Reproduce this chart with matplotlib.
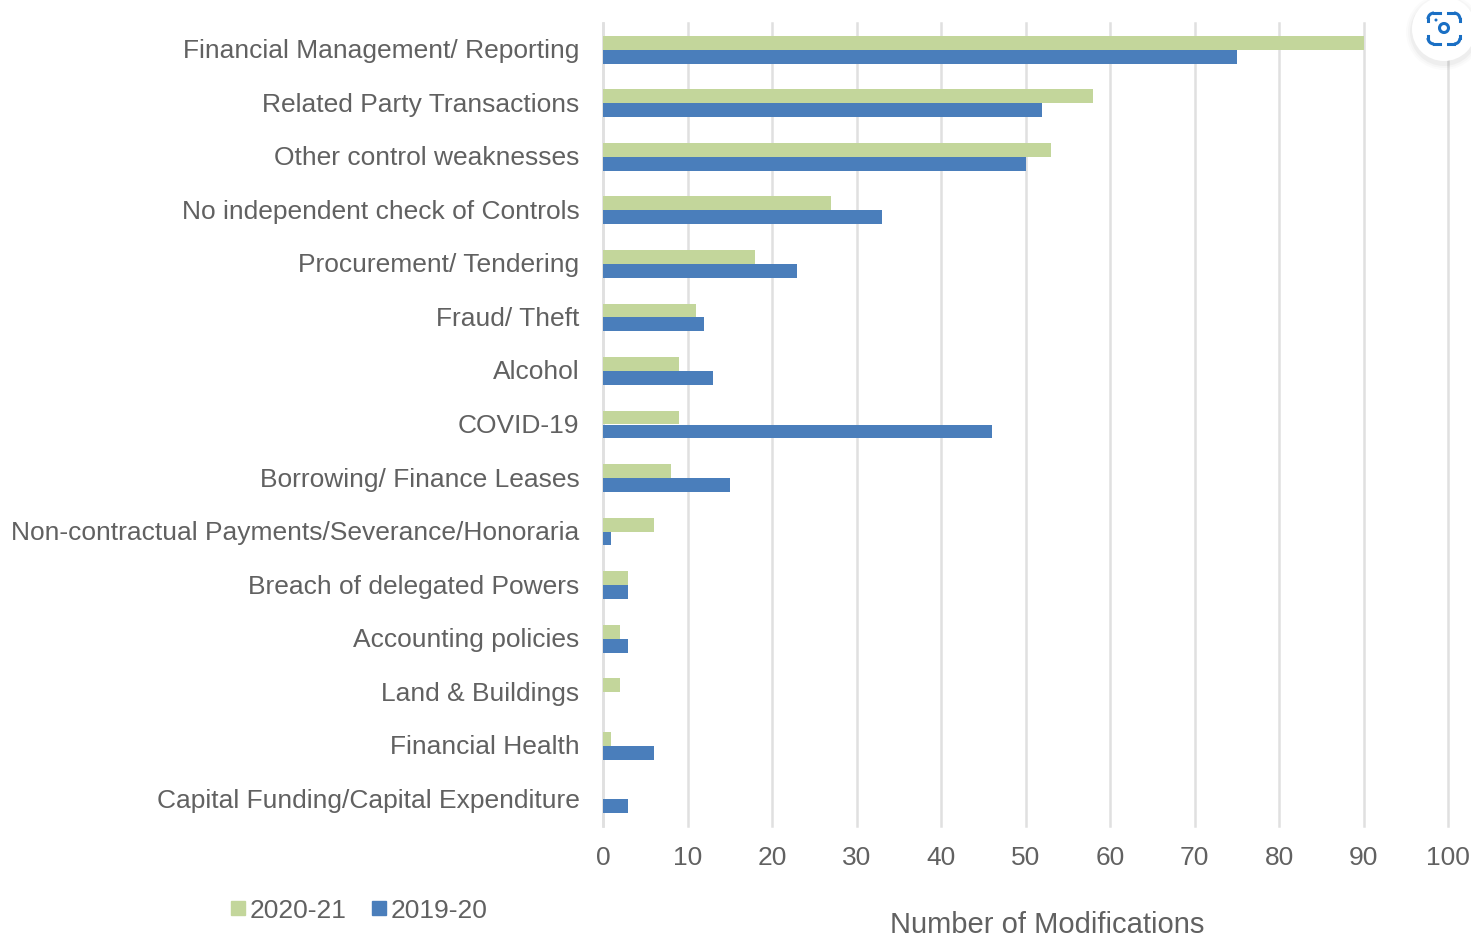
import matplotlib
matplotlib.use('Agg')
import matplotlib.pyplot as plt
from matplotlib.lines import Line2D
from matplotlib.patches import Arc, Circle, Rectangle
from matplotlib.transforms import Affine2D, ScaledTranslation

categories = ['Financial Management/ Reporting', 'Related Party Transactions', 'Other control weaknesses',
              'No independent check of Controls', 'Procurement/ Tendering', 'Fraud/ Theft', 'Alcohol', 'COVID-19',
              'Borrowing/ Finance Leases', 'Non-contractual Payments/Severance/Honoraria',
              'Breach of delegated Powers', 'Accounting policies', 'Land & Buildings', 'Financial Health',
              'Capital Funding/Capital Expenditure']
values_2021 = [90, 58, 53, 27, 18, 11, 9, 9, 8, 6, 3, 2, 2, 1, 0]
values_1920 = [75, 52, 50, 33, 23, 12, 13, 46, 15, 1, 3, 3, 0, 6, 3]
xticks = list(range(0, 101, 10))

W, H = 1471, 937
plt.rcParams['font.family'] = ['Liberation Sans', 'DejaVu Sans']
fig = plt.figure(figsize=(W / 100, H / 100), dpi=100)
ax = fig.add_axes([603 / W, 1 - 827 / H, (1448 - 603) / W, (827 - 24) / H])

grey = '#616161'
green = '#c3d69b'
blue = '#4a7ebb'
for i in range(len(categories)):
    ax.barh(i - 0.13, values_2021[i], height=0.26, color=green, zorder=3)
    ax.barh(i + 0.13, values_1920[i], height=0.26, color=blue, zorder=3)

ax.set_xlim(0, 100)
ax.set_ylim(14.5, -0.5)
ax.set_xticks(xticks)
ax.set_yticks(range(len(categories)))
ax.set_yticklabels(categories)
ax.tick_params(axis='both', length=0, labelsize=19, labelcolor=grey)
ax.tick_params(axis='y', pad=17)
ax.tick_params(axis='x', pad=14)
ax.grid(axis='x', color='#e0e0e0', lw=1.8, zorder=1, clip_on=False)
for s in ['top', 'right', 'bottom']:
    ax.spines[s].set_visible(False)
ax.spines['left'].set_color('#e0e0e0')
ax.spines['left'].set_linewidth(1.8)
ax.spines['left'].set_zorder(1)

# y labels sit above the bar centres
nudge = ScaledTranslation(0, 2 / 100, fig.dpi_scale_trans)
for lbl in ax.get_yticklabels():
    lbl.set_transform(lbl.get_transform() + nudge)

# legend drawn by hand, positions in figure pixels
fig.add_artist(Rectangle((231 / W, 1 - 916 / H), 14 / W, 14 / H, color=green, transform=fig.transFigure))
fig.add_artist(Rectangle((372 / W, 1 - 916 / H), 14 / W, 14 / H, color=blue, transform=fig.transFigure))
fig.text(250 / W, 1 - 911 / H, '2020-21', fontsize=19, color=grey, va='center')
fig.text(391 / W, 1 - 911 / H, '2019-20', fontsize=19, color=grey, va='center')
fig.text(1047 / W, 1 - 925 / H, 'Number of Modifications', fontsize=21, color=grey, ha='center', va='center')

# screenshot search badge, top right corner, drawn in pixel coords
px = Affine2D().scale(1, -1).translate(0, H)
for r, a in [(38, 0.015), (36, 0.02), (34, 0.03)]:
    fig.add_artist(Circle((1444, 33), r, color='black', alpha=a, lw=0, transform=px))
fig.add_artist(Circle((1444, 30), 32, color='white', lw=0, transform=px))
icon = '#1a6fc4'
x0, x1, y0, y1, r = 1428, 1460, 14, 45, 6
for sx, sy, cx, cy, t in [(x0, y0, x0 + r, y0 + r, 180), (x1, y0, x1 - r, y0 + r, 270),
                          (x1, y1, x1 - r, y1 - r, 0), (x0, y1, x0 + r, y1 - r, 90)]:
    fig.add_artist(Arc((cx, cy), 2 * r, 2 * r, theta1=t, theta2=t + 90, color=icon, lw=2.2, transform=px))
    hx = 1 if sx == x0 else -1
    hy = 1 if sy == y0 else -1
    fig.add_artist(Line2D([cx, cx + hx * 6], [sy, sy], color=icon, lw=2.2, transform=px))
    fig.add_artist(Line2D([sx, sx], [cy, cy + hy * 2], color=icon, lw=2.2, transform=px))
fig.add_artist(Circle((1444, 29), 4.5, fill=False, ec=icon, lw=2.2, transform=px))
fig.add_artist(Circle((1436, 21), 1.5, color=icon, lw=0, transform=px))

fig.savefig('out.png', dpi=100)
